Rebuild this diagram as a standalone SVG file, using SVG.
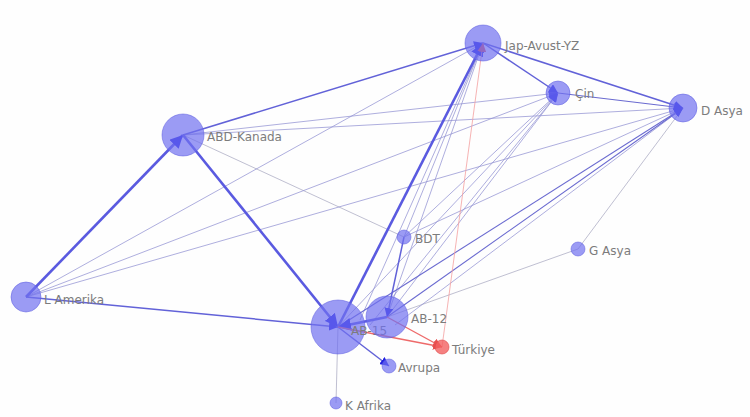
<svg xmlns="http://www.w3.org/2000/svg" width="750" height="417" viewBox="0 0 750 417">
<defs>
<marker id="ab" viewBox="0 0 10 10" refX="10" refY="5" markerWidth="9" markerHeight="9" markerUnits="userSpaceOnUse" orient="auto"><path d="M0,0L10,5L0,10z" fill="#2020e0"/></marker>
<marker id="abL" viewBox="0 0 10 10" refX="10" refY="5" markerWidth="13" markerHeight="13" markerUnits="userSpaceOnUse" orient="auto"><path d="M0,0L10,5L0,10z" fill="#2020e0"/></marker>
<marker id="ar" viewBox="0 0 10 10" refX="10" refY="5" markerWidth="9" markerHeight="9" markerUnits="userSpaceOnUse" orient="auto"><path d="M0,0L10,5L0,10z" fill="#e85050"/></marker>
</defs>
<style>
.bg{fill:#fefefe}
line{fill:none}
.t{stroke:#5a5ae0;stroke-width:2.6;marker-end:url(#abL)}
.m{stroke:#6262d8;stroke-width:1.5;marker-end:url(#ab)}
.d{stroke:#6a6ad0;stroke-width:1.1;marker-end:url(#ab)}
.s{stroke:#9494d4;stroke-width:1;opacity:.75;marker-end:url(#ab)}
.g{stroke:#b8b8cc;stroke-width:1;opacity:.9}
.r{stroke:#f4a0a0;stroke-width:.8;marker-end:url(#ar)}
.rm{stroke:#ee6a6a;stroke-width:1.4;marker-end:url(#ar)}
.n{fill:#7070f0;fill-opacity:.7;stroke:#5a5ae0;stroke-opacity:.5;stroke-width:1}
.nr{fill:#f26060;fill-opacity:.8;stroke:#e04848;stroke-opacity:.6}
text{font-family:"DejaVu Sans",sans-serif;font-size:12px;fill:#7c7c7c}
</style>
<rect class="bg" width="750" height="417"/>
<g id="edges">
<line class="g" x1="183" y1="135" x2="404" y2="237"/>
<line class="g" x1="387" y1="317" x2="578" y2="249"/>
<line class="g" x1="578" y1="249" x2="683" y2="108"/>
<line class="g" x1="338" y1="327" x2="336" y2="403"/>
<line class="s" x1="26" y1="297" x2="483" y2="43"/>
<line class="s" x1="26" y1="297" x2="558" y2="93"/>
<line class="s" x1="26" y1="297" x2="683" y2="108"/>
<line class="s" x1="183" y1="135" x2="558" y2="93"/>
<line class="s" x1="183" y1="135" x2="683" y2="108"/>
<line class="d" x1="558" y1="93" x2="683" y2="108"/>
<line class="s" x1="387" y1="317" x2="483" y2="43"/>
<line class="s" x1="387" y1="317" x2="558" y2="93"/>
<line class="s" x1="338" y1="327" x2="558" y2="93"/>
<line class="s" x1="404" y1="237" x2="483" y2="43"/>
<line class="s" x1="404" y1="237" x2="558" y2="93"/>
<line class="s" x1="404" y1="237" x2="683" y2="108"/>
<line class="s" x1="360" y1="320" x2="483" y2="43"/>
<line class="s" x1="370" y1="325" x2="558" y2="93"/>
<line class="s" x1="395" y1="325" x2="683" y2="108"/>
<line class="m" x1="26" y1="297" x2="338" y2="327"/>
<line class="m" x1="183" y1="135" x2="483" y2="43"/>
<line class="m" x1="483" y1="43" x2="683" y2="108"/>
<line class="m" x1="483" y1="43" x2="558" y2="93"/>
<line class="d" x1="387" y1="317" x2="683" y2="108"/>
<line class="d" x1="338" y1="327" x2="683" y2="108"/>
<line class="m" x1="404" y1="237" x2="387" y2="317"/>
<line class="m" x1="338" y1="327" x2="389" y2="366"/>
<line class="t" x1="26" y1="297" x2="183" y2="135"/>
<line class="t" x1="183" y1="135" x2="338" y2="327"/>
<line class="t" x1="338" y1="327" x2="483" y2="43"/>
<line class="t" x1="387" y1="317" x2="338" y2="327"/>
<line class="r" x1="442" y1="347" x2="483" y2="43"/>
<line class="rm" x1="338" y1="327" x2="442" y2="347"/>
<line class="rm" x1="387" y1="317" x2="442" y2="347"/>
</g>
<g id="n-abd"><circle class="n" cx="183" cy="135" r="21"/><text x="207" y="141">ABD-Kanada</text></g>
<g id="n-jap"><circle class="n" cx="483" cy="43" r="18"/><text x="505" y="50">Jap-Avust-YZ</text></g>
<g id="n-cin"><circle class="n" cx="558" cy="93" r="12"/><text x="575" y="98">Çin</text></g>
<g id="n-dasya"><circle class="n" cx="683" cy="108" r="14"/><text x="701" y="115">D Asya</text></g>
<g id="n-lam"><circle class="n" cx="26" cy="297" r="15"/><text x="44" y="304">L Amerika</text></g>
<g id="n-bdt"><circle class="n" cx="404" cy="237" r="7"/><text x="415" y="243">BDT</text></g>
<g id="n-gasya"><circle class="n" cx="578" cy="249" r="7"/><text x="589" y="255">G Asya</text></g>
<g id="n-ab15"><circle class="n" cx="338" cy="327" r="27"/><text x="351" y="335">AB-15</text></g>
<g id="n-ab12"><circle class="n" cx="387" cy="317" r="21"/><text x="411" y="323">AB-12</text></g>
<g id="n-tr"><circle class="nr" cx="442" cy="347" r="7"/><text x="452" y="354">Türkiye</text></g>
<g id="n-avrupa"><circle class="n" cx="389" cy="366" r="7"/><text x="398" y="372">Avrupa</text></g>
<g id="n-kafrika"><circle class="n" cx="336" cy="403" r="6"/><text x="345" y="410">K Afrika</text></g>
</svg>
